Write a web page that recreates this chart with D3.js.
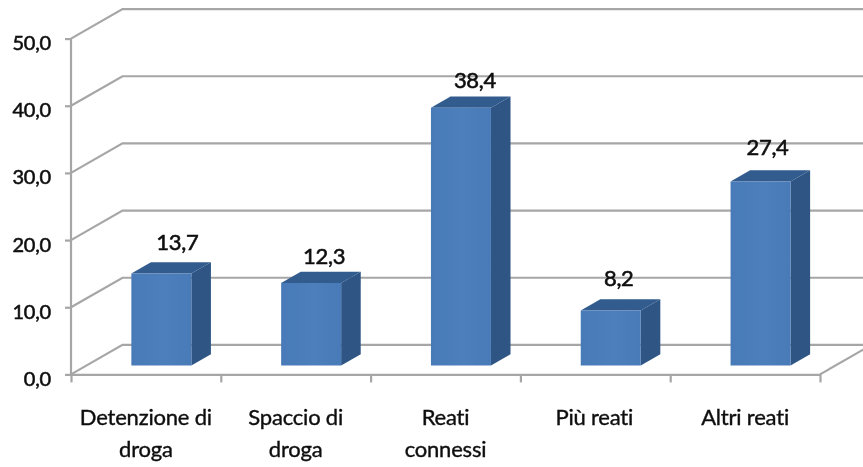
<!DOCTYPE html>
<html><head><meta charset="utf-8">
<script src="https://cdn.jsdelivr.net/npm/d3@7"></script>
<style>html,body{margin:0;padding:0;background:#fff;overflow:hidden}svg{display:block}text{font-family:Lato,"Open Sans",sans-serif;fill:#111;stroke:#111}</style>
</head><body><svg id="c" width="863" height="467"></svg>
<script>
const categories = ["Detenzione di|droga","Spaccio di|droga","Reati|connessi","Più reati","Altri reati"];
const values = [13.7,12.3,38.4,8.2,27.4];
const valueLabels = ["13,7","12,3","38,4","8,2","27,4"];
const yTicks = [0,10,20,30,40,50];

const W=863,H=467;
const svg=d3.select("#c");
const defs=svg.append("defs");
defs.append("filter").attr("id","soft").attr("x","-5%").attr("y","-5%").attr("width","110%").attr("height","110%")
  .append("feGaussianBlur").attr("stdDeviation",0.5);
const lg=defs.append("linearGradient").attr("id","front");
lg.append("stop").attr("offset","0%").attr("stop-color","#487ab8");
lg.append("stop").attr("offset","55%").attr("stop-color","#4e7fbd");
lg.append("stop").attr("offset","100%").attr("stop-color","#497ab8");

const root=svg.append("g").attr("filter","url(#soft)");
const x=d3.scaleBand().domain(categories).range([71,820]).padding(0);
const y=d3.scaleLinear().domain([0,50]).range([374.4,38.6]);
const backDx=51.5, backDy=-29.5;
const frontT=0.3, backT=0.68;
const barW=60;
const grid="#a6a6a6";

// walls and floor
const gridG=root.append("g").attr("fill","none").attr("stroke",grid).attr("stroke-width",2.2);
yTicks.forEach(t=>{
  const line=d3.line()([[71,y(t)],[71+backDx,y(t)+backDy],[W+10,y(t)+backDy]]);
  gridG.append("path").attr("d",line);
});
gridG.append("path").attr("d",d3.line()([[820,y(0)],[820+backDx,y(0)+backDy]]));

// bars
const bars=root.append("g").selectAll("g").data(values).join("g");
const corner=(i,v,t)=>{
  const cx=x(categories[i])+x.bandwidth()/2;
  return (side)=>[cx+side*barW/2+backDx*t, y(v)+backDy*t];
};
bars.each(function(v,i){
  const g=d3.select(this);
  const f=corner(i,v,frontT),b=corner(i,v,backT),f0=corner(i,0,frontT),b0=corner(i,0,backT);
  const poly=d3.line();
  g.append("path").attr("d",poly([f(1),b(1),b0(1),f0(1)])+"Z").attr("fill","#2d5583");
  g.append("path").attr("d",poly([f(-1),b(-1),b(1),f(1)])+"Z").attr("fill","#305b8e");
  g.append("path").attr("d",poly([f(-1),f(1),f0(1),f0(-1)])+"Z").attr("fill","url(#front)");
});

// axes
const axY=root.append("g").attr("transform","translate(71,0)")
  .call(d3.axisLeft(y).tickValues(yTicks).tickFormat(d=>d3.format(".1f")(d).replace(".",",")).tickSize(6).tickSizeOuter(0));
axY.selectAll("path,line").attr("stroke",grid).attr("stroke-width",2.2);
axY.select(".domain").attr("d",`M0,${y(50)}V${y(0)}`);
axY.selectAll("text").attr("x",-20).attr("dy","0.55em").style("font-size","20px")
  .style("font-family","Lato,sans-serif").style("stroke-width","0.55px").style("letter-spacing","-0.2px");

const edges=d3.range(categories.length+1).map(i=>71+i*x.bandwidth());
const xEdge=d3.scaleLinear().domain([71,820]).range([71,820]);
const axX=root.append("g").attr("transform",`translate(0,${y(0)})`)
  .call(d3.axisBottom(xEdge).tickValues(edges).tickSize(8).tickSizeOuter(0).tickFormat(""));
axX.selectAll("path,line").attr("stroke",grid).attr("stroke-width",2.2);

// labels
const lab=root.append("g").attr("text-anchor","middle");
categories.forEach((c,i)=>{
  const cx=x(c)+x.bandwidth()/2;
  c.split("|").forEach((s,j)=>{
    lab.append("text").attr("x",cx-(i===3?1:0)).attr("y",425+j*32).style("font-size","22px")
      .style("stroke-width","0.4px").style("letter-spacing","-0.2px").text(s);
  });
});
// hand-placed nudges of the data labels, as in the reference
const labelDx=[16,13,14,8,7], labelDy=[0,4,4,-1,-3];
values.forEach((v,i)=>{
  const cx=x(categories[i])+x.bandwidth()/2+backDx*frontT+labelDx[i];
  lab.append("text").attr("x",cx).attr("y",y(v)+backDy*backT-12+labelDy[i]).style("font-size","22px")
    .style("stroke-width","0.6px").style("letter-spacing","-0.3px").text(valueLabels[i]);
});
</script></body></html>
